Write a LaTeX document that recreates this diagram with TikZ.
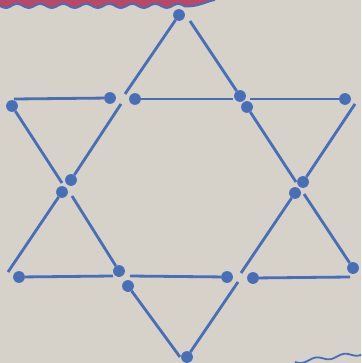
\documentclass[tikz,border=0pt]{standalone}
\begin{document}
\begin{tikzpicture}[x=0.5mm,y=-0.5mm,
  stick/.style={draw=matchblue,line width=1.4mm},
  head/.style={circle,fill=matchblue,inner sep=0pt,minimum size=5.9mm}]
\definecolor{matchblue}{RGB}{72,110,184}
\definecolor{paper}{RGB}{214,209,201}
\definecolor{band}{RGB}{184,72,104}
% paper and borders
\fill[paper] (0,0) rectangle (361,363);
\useasboundingbox (0,0) rectangle (361,363);
\fill[band] (0,0) -- plot[domain=0:185,samples=80] (\x,{6+2*sin(\x/23*360)}) .. controls (198,7) and (205,2) .. (215,0) -- cycle;
\draw[matchblue,line width=0.9mm] plot[domain=0:185,samples=80] (\x,{6+2*sin(\x/23*360)}) .. controls (198,7) and (205,2) .. (215,0);
\draw[matchblue,line width=0.9mm] plot[domain=295:361,samples=40] (\x,{362-(\x-295)*0.13+1.8*sin((\x-295)/28*360)});
% upward triangle
\node[head] (a1) at (179,15) {}; \coordinate (a1t) at (125,94); \draw[stick] (a1) -- (a1t);
\node[head] (a2) at (71,180) {}; \coordinate (a2t) at (121,104); \draw[stick] (a2) -- (a2t);
\node[head] (a3) at (62,192) {}; \coordinate (a3t) at (8,272); \draw[stick] (a3) -- (a3t);
\node[head] (b1) at (240,96) {}; \coordinate (b1t) at (190,21); \draw[stick] (b1) -- (b1t);
\node[head] (b2) at (247,107) {}; \coordinate (b2t) at (296,182); \draw[stick] (b2) -- (b2t);
\node[head] (b3) at (353,268) {}; \coordinate (b3t) at (304,194); \draw[stick] (b3) -- (b3t);
\node[head] (f1) at (19,277) {}; \coordinate (f1t) at (113,276); \draw[stick] (f1) -- (f1t);
\node[head] (f2) at (227,277) {}; \coordinate (f2t) at (130,276); \draw[stick] (f2) -- (f2t);
\node[head] (f3) at (253,278) {}; \coordinate (f3t) at (350,277); \draw[stick] (f3) -- (f3t);
% downward triangle
\node[head] (c1) at (12,106) {}; \coordinate (c1t) at (62,183); \draw[stick] (c1) -- (c1t);
\node[head] (c2) at (119,271) {}; \coordinate (c2t) at (72,196); \draw[stick] (c2) -- (c2t);
\node[head] (c3) at (128,286) {}; \coordinate (c3t) at (180,357); \draw[stick] (c3) -- (c3t);
\node[head] (d1) at (303,182) {}; \coordinate (d1t) at (355,104); \draw[stick] (d1) -- (d1t);
\node[head] (d2) at (295,193) {}; \coordinate (d2t) at (241,273); \draw[stick] (d2) -- (d2t);
\node[head] (d3) at (187,357) {}; \coordinate (d3t) at (238,282); \draw[stick] (d3) -- (d3t);
\node[head] (e1) at (110,98) {}; \coordinate (e1t) at (14,99); \draw[stick] (e1) -- (e1t);
\node[head] (e2) at (135,99) {}; \coordinate (e2t) at (233,99); \draw[stick] (e2) -- (e2t);
\node[head] (e3) at (345,99) {}; \coordinate (e3t) at (250,99); \draw[stick] (e3) -- (e3t);
\end{tikzpicture}
\end{document}
